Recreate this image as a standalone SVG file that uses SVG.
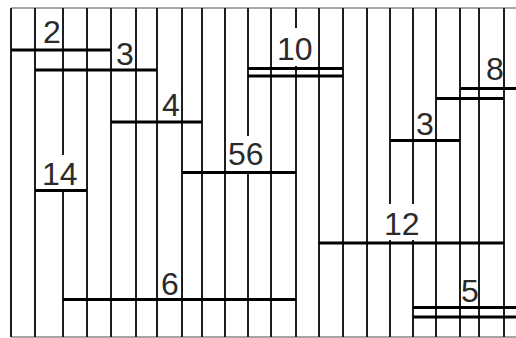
<svg xmlns="http://www.w3.org/2000/svg" width="516" height="338" viewBox="0 0 516 338">
<style>
.v{stroke:#1e1e1e;stroke-width:2;fill:none}
.b{stroke:#000;stroke-width:3;fill:none}
.f{stroke:#8a8a8a;stroke-width:1.5;fill:none}
.t{font-family:"Liberation Sans",Arial,sans-serif;font-size:32px;fill:#2a2a2a}
</style>
<rect width="516" height="338" fill="#fff"/>
<g id="frame">
<line class="f" x1="11" y1="8" x2="516" y2="8"/>
<line class="f" x1="11" y1="337" x2="516" y2="337"/>
</g>
<g id="connectors">
<path class="v" d="M11 8V337M35 8V337M63 8V155M63 190V337M87 8V337M111 8V337M136 8V337M157 8V337M182 8V337M202 8V337M225 8V337M248 8V136M248 172V337M271 8V337M296 8V28M296 66V337M319 8V337M343 8V337M367 8V337M390 8V204M390 240V337M413 8V204M413 240V337M436 8V337M460 8V337M479 8V337M504 8V337"/>
</g>
<g id="n2"><line class="b" x1="11" y1="50" x2="111" y2="50"/><text class="t" x="43" y="43">2</text></g>
<g id="n3a"><line class="b" x1="35" y1="70" x2="157" y2="70"/><text class="t" x="116" y="65">3</text></g>
<g id="n4"><line class="b" x1="111" y1="122" x2="202" y2="122"/><text class="t" x="162" y="116">4</text></g>
<g id="n10"><line class="b" x1="248" y1="68.5" x2="343" y2="68.5"/><line class="b" x1="248" y1="76" x2="343" y2="76"/><text class="t" x="277" y="60">10</text></g>
<g id="n8"><line class="b" x1="460" y1="88.5" x2="516" y2="88.5"/><line class="b" x1="436" y1="98.5" x2="504" y2="98.5"/><text class="t" x="486" y="80">8</text></g>
<g id="n3b"><line class="b" x1="390" y1="140.5" x2="460" y2="140.5"/><text class="t" x="416" y="135">3</text></g>
<g id="n56"><line class="b" x1="182" y1="172.5" x2="296" y2="172.5"/><text class="t" x="228" y="165">56</text></g>
<g id="n14"><line class="b" x1="35" y1="190.5" x2="87" y2="190.5"/><text class="t" x="42" y="185">14</text></g>
<g id="n12"><line class="b" x1="319" y1="243" x2="504" y2="243"/><text class="t" x="384" y="235">12</text></g>
<g id="n6"><line class="b" x1="63" y1="299.5" x2="296" y2="299.5"/><text class="t" x="161" y="295">6</text></g>
<g id="n5"><line class="b" x1="413" y1="307.5" x2="516" y2="307.5"/><line class="b" x1="413" y1="317" x2="516" y2="317"/><text class="t" x="461" y="302">5</text></g>
</svg>
